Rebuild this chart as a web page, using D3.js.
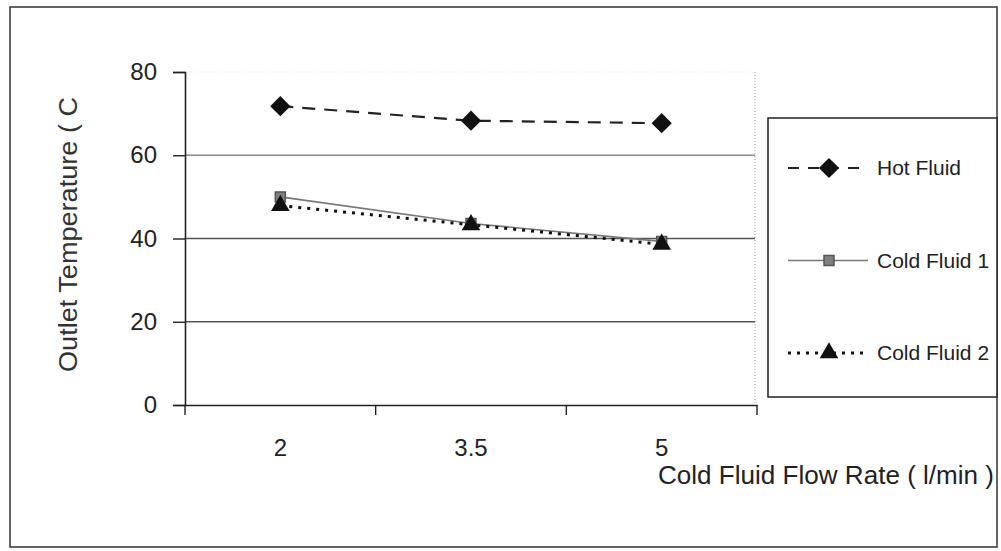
<!DOCTYPE html>
<html>
<head>
<meta charset="utf-8">
<script src="https://cdn.jsdelivr.net/npm/d3@7"></script>
<style>
  html, body { margin: 0; padding: 0; background: #fff; }
  svg { display: block; font-family: "Liberation Sans", Arial, sans-serif; }
</style>
</head>
<body>
<svg id="chart" width="1001" height="551"></svg>
<script>
// ---- data ----
const categories = ["2", "3.5", "5"];
const hotFluid   = [71.8, 68.3, 67.7];
const coldFluid1 = [50.0, 43.6, 39.3];
const coldFluid2 = [47.9, 43.3, 38.6];
const yTicks = [0, 20, 40, 60, 80];
const seriesNames = ["Hot Fluid", "Cold Fluid 1", "Cold Fluid 2"];
const xTitle = "Cold Fluid Flow Rate ( l/min )";
const yTitle = "Outlet Temperature ( C";

(function () {
const svg = d3.select("#chart");

// outer frame
svg.append("rect").attr("x", 10).attr("y", 7).attr("width", 987).attr("height", 540)
  .attr("fill", "none").attr("stroke", "#333").attr("stroke-width", 1.5);

const pLeft = 185, pRight = 757, pTop = 72, pBottom = 405;
const x = d3.scaleBand().domain(categories).range([pLeft, pRight]);
const y = d3.scaleLinear().domain([0, 80]).range([pBottom, pTop]);

// faint dotted plot border (top/right)
svg.append("line").attr("x1", pLeft).attr("x2", pRight - 2).attr("y1", y(80)).attr("y2", y(80))
  .attr("stroke", "#ccc").attr("stroke-width", 1).attr("stroke-dasharray", "1,2").attr("opacity", 0.5);
svg.append("line").attr("x1", pRight - 2).attr("x2", pRight - 2).attr("y1", y(80)).attr("y2", y(0))
  .attr("stroke", "#999").attr("stroke-width", 1).attr("stroke-dasharray", "1,2");

// gridlines
svg.append("g").selectAll("line").data(yTicks.filter(t => t > 0 && t < 80)).join("line")
  .attr("x1", pLeft).attr("x2", pRight - 2)
  .attr("y1", d => y(d)).attr("y2", d => y(d))
  .attr("stroke", d => d === 60 ? "#8a8a8a" : "#555")
  .attr("stroke-width", 1.6);

// y axis
const yAxis = svg.append("g").attr("transform", `translate(${pLeft},0)`)
  .call(d3.axisLeft(y).tickValues(yTicks).tickSize(12).tickPadding(16));
yAxis.select(".domain").attr("stroke", "#222").attr("stroke-width", 1.6);
yAxis.selectAll(".tick line").attr("stroke", "#222").attr("stroke-width", 1.4);
yAxis.selectAll(".tick text").attr("font-size", 24).attr("fill", "#222")
  .attr("font-family", "Liberation Sans, Arial, sans-serif");

// x axis
const xAxis = svg.append("g").attr("transform", `translate(0,${pBottom})`)
  .call(d3.axisBottom(x).tickSize(0).tickPadding(0));
xAxis.select(".domain").attr("stroke", "#222").attr("stroke-width", 1.6);
xAxis.selectAll(".tick text").remove();
// boundary ticks between categories
const bounds = [pLeft].concat(categories.map(c => x(c) + x.bandwidth()));
svg.append("g").selectAll("line").data(bounds).join("line")
  .attr("x1", d => d).attr("x2", d => d).attr("y1", pBottom).attr("y2", pBottom + 10)
  .attr("stroke", "#222").attr("stroke-width", 1.4);
// category labels
svg.append("g").selectAll("text").data(categories).join("text")
  .attr("x", d => x(d) + x.bandwidth() / 2).attr("y", 456)
  .attr("text-anchor", "middle").attr("font-size", 24).attr("fill", "#222")
  .text(d => d);

// axis titles
svg.append("text").attr("x", 658).attr("y", 484).attr("font-size", 25).attr("fill", "#222")
  .attr("textLength", 336).attr("lengthAdjust", "spacingAndGlyphs")
  .text(xTitle);
svg.append("text").attr("transform", "translate(77,372) rotate(-90)")
  .attr("font-size", 25).attr("fill", "#333")
  .attr("textLength", 275).attr("lengthAdjust", "spacingAndGlyphs")
  .text(yTitle);

// series
const cx = c => x(c) + x.bandwidth() / 2;
const series = [
  { name: seriesNames[0], values: hotFluid, stroke: "#222", width: 2.2, dash: "13,9", marker: "diamond", fill: "#111" },
  { name: seriesNames[1], values: coldFluid1, stroke: "#777", width: 1.6, dash: null, marker: "square", fill: "#808080" },
  { name: seriesNames[2], values: coldFluid2, stroke: "#111", width: 3, dash: "3,6", marker: "triangle", fill: "#111" }
];
const symbolType = { diamond: d3.symbolDiamond2 || d3.symbolDiamond, square: d3.symbolSquare, triangle: d3.symbolTriangle };
const symbolSize = { diamond: 260, square: 100, triangle: 150 };
const line = d3.line().x((d, i) => cx(categories[i])).y(d => y(d));

series.forEach(s => {
  svg.append("path").datum(s.values).attr("d", line)
    .attr("fill", "none").attr("stroke", s.stroke).attr("stroke-width", s.width)
    .attr("stroke-dasharray", s.dash);
});
series.forEach(s => {
  svg.append("g").selectAll("path").data(s.values).join("path")
    .attr("transform", (d, i) => `translate(${cx(categories[i])},${y(d)})`)
    .attr("d", d3.symbol().type(symbolType[s.marker]).size(symbolSize[s.marker]))
    .attr("fill", s.fill)
    .attr("stroke", s.marker === "square" ? "#555" : "none")
    .attr("stroke-width", 1.5);
});

// legend
const lg = svg.append("g");
lg.append("rect").attr("x", 768).attr("y", 118).attr("width", 229).attr("height", 279)
  .attr("fill", "#fff").attr("stroke", "#222").attr("stroke-width", 1.5);
const legendY = d3.scalePoint().domain(seriesNames).range([168, 353]);
series.forEach(s => {
  const ly = legendY(s.name);
  lg.append("line").attr("x1", 788).attr("x2", 868).attr("y1", ly).attr("y2", ly)
    .attr("stroke", s.stroke).attr("stroke-width", s.width)
    .attr("stroke-dasharray", s.dash === "13,9" ? "11,9" : s.dash);
  lg.append("path").attr("transform", `translate(829,${ly})`)
    .attr("d", d3.symbol().type(symbolType[s.marker]).size(symbolSize[s.marker]))
    .attr("fill", s.fill)
    .attr("stroke", s.marker === "square" ? "#555" : "none").attr("stroke-width", 1.5);
  lg.append("text").attr("x", 877).attr("y", ly + 7).attr("font-size", 21).attr("fill", "#222")
    .text(s.name);
});
})();
</script>
</body>
</html>
